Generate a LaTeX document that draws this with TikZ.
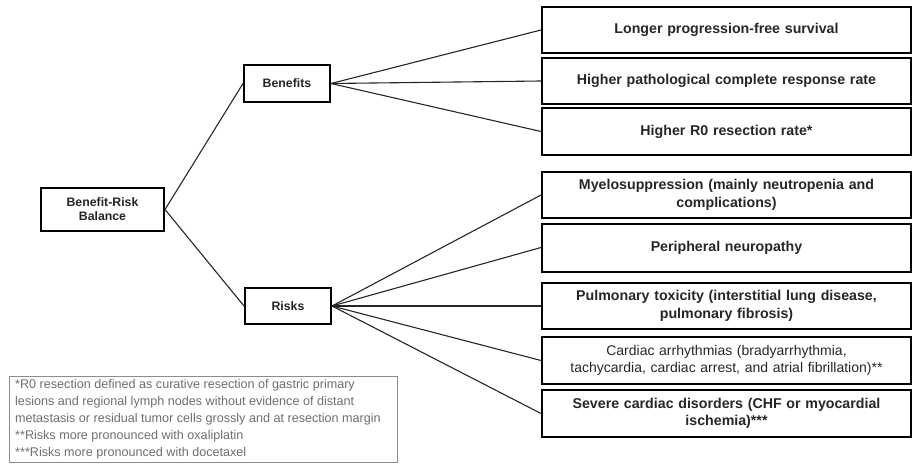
\documentclass[tikz,border=0pt]{standalone}
\usepackage{fontspec}
\setmainfont{Liberation Sans}
\newfontfamily\bxf{Liberation Sans}[WordSpace=1.6]
\definecolor{txt}{HTML}{262626}
\definecolor{fncol}{HTML}{6E6E6E}
\definecolor{fnborder}{HTML}{8C8C8C}
\tikzset{
  leftbox/.style={draw=black, line width=2pt, fill=white, inner sep=0pt,
    font=\fontsize{12.3}{14}\selectfont\bfseries, text=txt, align=center},
  rightbox/.style={draw=black, line width=2pt, inner sep=0pt,
    minimum width=369pt, text width=362pt, align=center, text=txt,
    font=\bxf\fontsize{14.2}{17.5}\selectfont\bfseries},
  rightreg/.style={rightbox, font=\bxf\fontsize{14}{17.5}\selectfont},
  conn/.style={draw=black!85, line width=1.1pt},
}
\begin{document}
\begin{tikzpicture}[x=1pt,y=-1pt]
\useasboundingbox (0,0) rectangle (912,466);
% left boxes
\node[leftbox, minimum width=123pt, minimum height=43pt] (brb) at (102.5,209.5) {Benefit-Risk\\Balance};
\node[leftbox, minimum width=86pt, minimum height=37pt] (ben) at (287,83.5) {Benefits};
\node[leftbox, minimum width=86pt, minimum height=36pt] (risk) at (288,306) {Risks};
% right boxes
\node[rightbox, minimum height=46pt] (b1) at (726.5,30) {Longer progression-free survival};
\node[rightbox, minimum height=46pt] (b2) at (726.5,81) {Higher pathological complete response rate};
\node[rightbox, minimum height=47pt] (b3) at (726.5,131.5) {Higher R0 resection rate*};
\node[rightbox, minimum height=46pt] (r1) at (726.5,195) {Myelosuppression (mainly neutropenia and\\complications)};
\node[rightbox, minimum height=48pt] (r2) at (726.5,247.5) {Peripheral neuropathy};
\node[rightbox, minimum height=46pt] (r3) at (726.5,306) {Pulmonary toxicity (interstitial lung disease,\\pulmonary fibrosis)};
\node[rightreg, minimum height=47pt] (r4) at (726.5,360.5) {Cardiac arrhythmias (bradyarrhythmia,\\tachycardia, cardiac arrest, and atrial fibrillation)**};
\node[rightbox, minimum height=47pt] (r5) at (726.5,413.5) {Severe cardiac disorders (CHF or myocardial\\ischemia)***};
% connectors
\draw[conn] (brb.east) -- (ben.west);
\draw[conn] (brb.east) -- (risk.west);
\foreach \t in {b1,b2,b3} \draw[conn] (ben.east) -- (\t.west);
\foreach \t in {r1,r2,r3,r4,r5} \draw[conn] (risk.east) -- (\t.west);
% footnote
\node[draw=fnborder, line width=1pt, minimum width=388pt, minimum height=86pt, inner sep=0pt] (fnbox) at (203,419) {};
\node[anchor=north west, inner sep=0pt, text=fncol, align=left,
  font=\fontsize{12.6}{17}\selectfont] (fn) at (15,379) {*R0 resection defined as curative resection of gastric primary\\lesions and regional lymph nodes without evidence of distant\\metastasis or residual tumor cells grossly and at resection margin\\**Risks more pronounced with oxaliplatin\\***Risks more pronounced with docetaxel};
\end{tikzpicture}
\end{document}
